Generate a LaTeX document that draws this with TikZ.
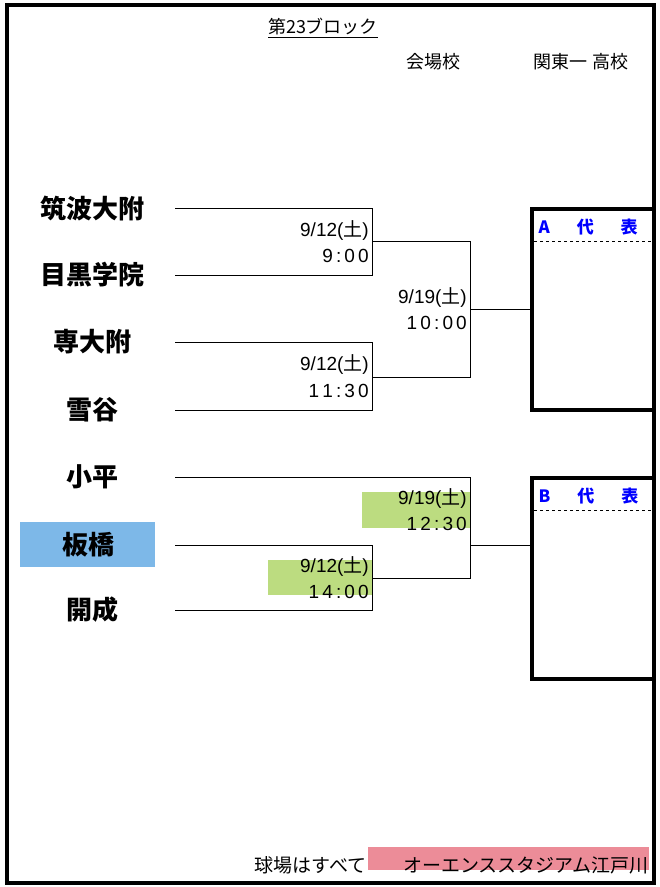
\documentclass[tikz,border=0pt]{standalone}
\usepackage{fontspec}
\setmainfont{Noto Sans CJK JP}
\newfontfamily\numf{Liberation Sans}
\newcommand{\tsuchi}{{\rmfamily 土}}
\definecolor{gbox}{HTML}{BCDC80}
\definecolor{bbox}{HTML}{7DB8E8}
\definecolor{pbox}{HTML}{EC8C98}
\begin{document}
\begin{tikzpicture}[x=1pt,y=-1pt,
  team/.style={font=\fontsize{26}{28}\selectfont\bfseries,anchor=center},
  dt/.style={font=\numf\fontsize{19}{21}\selectfont,anchor=east,inner sep=0},
  ln/.style={line width=1pt},
  thick box/.style={line width=3.5pt}]
\useasboundingbox (0,0) rectangle (660,887);
\fill[bbox] (20,522) rectangle (155,567);
\fill[gbox] (362,492) rectangle (470,528);
\fill[gbox] (268,560) rectangle (372,595);
\fill[pbox] (368,847) rectangle (649,870);
\draw[line width=3.5pt] (7,5) rectangle (654,883);
\node[font=\fontsize{18}{20}\selectfont] (title) at (323,28) {\underline{第23ブロック}};
\node[font=\fontsize{18}{20}\selectfont] (kai) at (433,62) {会場校};
\node[font=\fontsize{18}{20}\selectfont] (kanto) at (581,62) {関東一\ 高校};
\node[team] (t1) at (92,208) {筑波大附};
\node[team] (t2) at (92,275) {目黒学院};
\node[team] (t3) at (92,342) {専大附};
\node[team] (t4) at (92,410) {雪谷};
\node[team] (t5) at (92,477) {小平};
\node[team] (t6) at (88,545) {板橋};
\node[team] (t7) at (92,610) {開成};
\coordinate (a1) at (175,208); \coordinate (b1) at (372,208);
\coordinate (a2) at (175,275); \coordinate (b2) at (372,275);
\coordinate (a3) at (175,342); \coordinate (b3) at (372,342);
\coordinate (a4) at (175,410); \coordinate (b4) at (372,410);
\coordinate (a5) at (175,477); \coordinate (b5) at (470,477);
\coordinate (a6) at (175,545); \coordinate (b6) at (372,545);
\coordinate (a7) at (175,610); \coordinate (b7) at (372,610);
\draw[ln] (a1)--(b1)--(b2)--(a2);
\draw[ln] (a3)--(b3)--(b4)--(a4);
\draw[ln] (372,241)--(470,241)--(470,377)--(372,377);
\draw[ln] (470,309)--(530,309);
\draw[ln] (a5)--(b5)--(470,578)--(372,578);
\draw[ln] (a6)--(b6)--(b7)--(a7);
\draw[ln] (470,545)--(530,545);
\node[dt] (d1) at (369,231) {9/12(\tsuchi)};
\node[dt] (d1t) at (369,256) {9\,:\,0\,0};
\node[dt] (d2) at (467,298) {9/19(\tsuchi)};
\node[dt] (d2t) at (467,323) {1\,0\,:\,0\,0};
\node[dt] (d3) at (369,365) {9/12(\tsuchi)};
\node[dt] (d3t) at (369,391) {1\,1\,:\,3\,0};
\node[dt] (d4) at (467,499) {9/19(\tsuchi)};
\node[dt] (d4t) at (467,524) {1\,2\,:\,3\,0};
\node[dt] (d5) at (369,567) {9/12(\tsuchi)};
\node[dt] (d5t) at (369,592) {1\,4\,:\,0\,0};
\draw[thick box] (654,209)--(532,209)--(532,410)--(654,410);
\draw[thick box] (654,478)--(532,478)--(532,679)--(654,679);
\draw[dashed,line width=1pt] (534,241)--(652,241);
\draw[dashed,line width=1pt] (534,510)--(652,510);
\node[font=\fontsize{17}{19}\selectfont\bfseries,text=blue,anchor=west] (A) at (535,227) {A\hspace{27pt}代\hspace{27pt}表};
\node[font=\fontsize{17}{19}\selectfont\bfseries,text=blue,anchor=west] (B) at (535,496) {B\hspace{27pt}代\hspace{27pt}表};
\node[font=\fontsize{19}{21}\selectfont,anchor=east] (k1) at (370,865) {球場はすべて};
\node[font=\fontsize{19}{21}\selectfont,anchor=east] (k2) at (652,865) {オーエンススタジアム江戸川};
\end{tikzpicture}
\end{document}
